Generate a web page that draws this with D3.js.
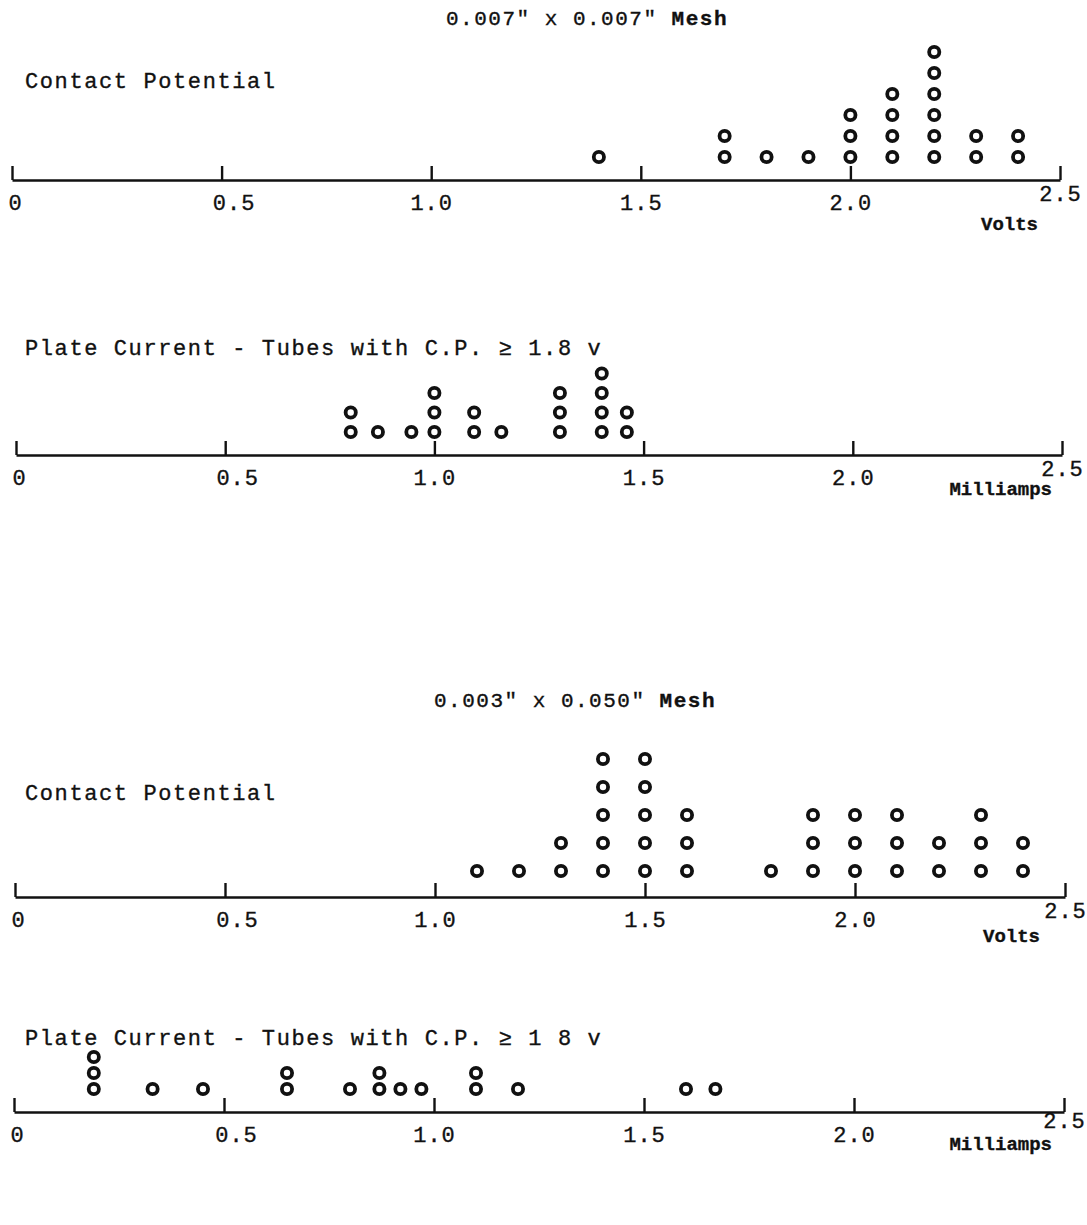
<!DOCTYPE html>
<html>
<head>
<meta charset="utf-8">
<script src="https://cdn.jsdelivr.net/npm/d3@7"></script>
<style>
  body { margin: 0; background: #fff; }
  svg text { font-family: "Liberation Mono", "DejaVu Sans Mono", monospace; fill: #111; stroke: #111; stroke-width: 0.35px; }
</style>
</head>
<body>
<svg id="chart" width="1087" height="1225"></svg>
<script>
// tick labels shared by all four strips
var tickValues = [0, 0.5, 1.0, 1.5, 2.0, 2.5];
var tickLabels = ["0", "0.5", "1.0", "1.5", "2.0", "2.5"];

// 0.007" x 0.007" mesh - contact potential (volts) and tube counts
var cp1Values = [1.4, 1.7, 1.8, 1.9, 2.0, 2.1, 2.2, 2.3, 2.4];
var cp1Counts = [1, 2, 1, 1, 3, 4, 6, 2, 2];

// 0.007" mesh - plate current (mA), tubes with C.P. >= 1.8 v
var pc1Values = [0.8, 0.865, 0.945, 1.0, 1.095, 1.16, 1.3, 1.4, 1.46];
var pc1Counts = [2, 1, 1, 3, 2, 1, 3, 4, 2];

// 0.003" x 0.050" mesh - contact potential
var cp2Values = [1.1, 1.2, 1.3, 1.4, 1.5, 1.6, 1.8, 1.9, 2.0, 2.1, 2.2, 2.3, 2.4];
var cp2Counts = [1, 1, 2, 5, 5, 3, 1, 3, 3, 3, 2, 3, 2];

// 0.003" mesh - plate current
var pc2Values = [0.19, 0.33, 0.45, 0.65, 0.8, 0.87, 0.92, 0.97, 1.1, 1.2, 1.6, 1.67];
var pc2Counts = [3, 1, 1, 2, 1, 2, 1, 1, 2, 1, 1, 1];

var svg = d3.select("#chart");

function strip(o) {
  var x = d3.scaleLinear().domain([0, 2.5]).range([o.x0, o.x1]);
  var g = svg.append("g");

  g.append("text")
    .attr("x", 25).attr("y", o.labelY)
    .style("font-size", "22px").style("letter-spacing", "1.6px")
    .text(o.label);

  var axis = d3.axisBottom(x)
    .tickValues(tickValues)
    .tickFormat(function(d, i) { return tickLabels[i]; })
    .tickSizeInner(-14).tickSizeOuter(0).tickPadding(14);

  var ax = g.append("g").attr("transform", "translate(0," + o.axisY + ")").call(axis);
  ax.select(".domain").attr("stroke", "#111").attr("stroke-width", 2.4);
  ax.selectAll(".tick line").attr("stroke", "#111").attr("stroke-width", 2.4);
  ax.selectAll(".tick text")
    .style("font-size", "22px").style("font-family", "Liberation Mono, monospace")
    .style("letter-spacing", "1px")
    .attr("fill", "#111")
    .attr("dy", function(d) { return d == 2.5 ? o.lastDy : "0.71em"; })
    .attr("text-anchor", function(d) { return d == 0 ? "start" : "middle"; })
    .attr("dx", function(d) { return d == 0 ? "-4" : d == 0.5 ? "12" : "0"; });

  g.append("text")
    .attr("x", o.unitX).attr("y", o.axisY + o.unitDy)
    .attr("text-anchor", "end")
    .style("font-size", "19px").style("font-weight", "bold")
    .text(o.unit);

  var pts = [];
  o.values.forEach(function(v, i) {
    for (var k = 0; k < o.counts[i]; k++) pts.push({ v: v, k: k });
  });

  g.selectAll("circle").data(pts).enter().append("circle")
    .attr("cx", function(d) { return x(d.v); })
    .attr("cy", function(d) { return o.axisY - o.gap - d.k * o.step; })
    .attr("r", 5.1)
    .attr("fill", "#fff")
    .attr("stroke", "#111")
    .attr("stroke-width", 3.8);
}

svg.append("text").attr("x", 587).attr("y", 25).attr("text-anchor", "middle")
  .style("font-size", "21px").style("letter-spacing", "1.5px")
  .html('0.007" x 0.007" <tspan font-weight="bold">Mesh</tspan>');

strip({ label: "Contact Potential", labelY: 88, axisY: 180, x0: 12, x1: 1060,
        values: cp1Values, counts: cp1Counts, gap: 23, step: 21, lastDy: "0.3em",
        unit: "Volts", unitX: 1038, unitDy: 50 });

strip({ label: "Plate Current - Tubes with C.P. \u2265 1.8 v", labelY: 355, axisY: 455, x0: 16, x1: 1062,
        values: pc1Values, counts: pc1Counts, gap: 23, step: 19.5, lastDy: "0.3em",
        unit: "Milliamps", unitX: 1052, unitDy: 40 });

svg.append("text").attr("x", 575).attr("y", 707).attr("text-anchor", "middle")
  .style("font-size", "21px").style("letter-spacing", "1.5px")
  .html('0.003" x 0.050" <tspan font-weight="bold">Mesh</tspan>');

strip({ label: "Contact Potential", labelY: 800, axisY: 897, x0: 15, x1: 1065,
        values: cp2Values, counts: cp2Counts, gap: 26, step: 28, lastDy: "0.3em",
        unit: "Volts", unitX: 1040, unitDy: 45 });

strip({ label: "Plate Current - Tubes with C.P. \u2265 1 8 v", labelY: 1045, axisY: 1112, x0: 14, x1: 1064,
        values: pc2Values, counts: pc2Counts, gap: 23, step: 16, lastDy: "0.1em",
        unit: "Milliamps", unitX: 1052, unitDy: 38 });
</script>
</body>
</html>
